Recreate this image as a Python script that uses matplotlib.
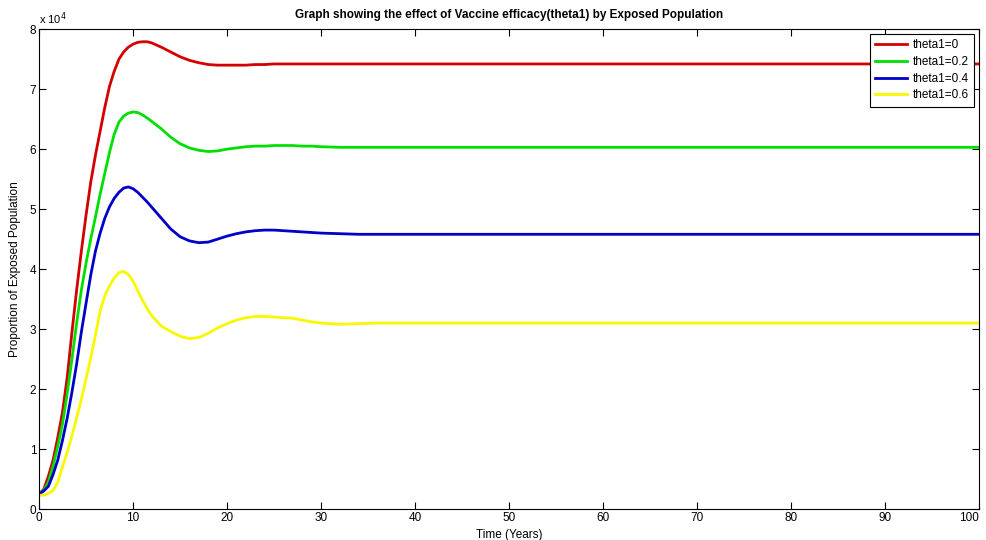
import matplotlib
matplotlib.use('Agg')
import matplotlib.pyplot as plt
import numpy as np

plt.rcParams['font.family'] = ['Liberation Sans', 'DejaVu Sans']

# time in years
t = [0, 0.5, 1, 1.5, 2, 2.5, 3, 3.5, 4, 4.5, 5, 5.5, 6, 6.5, 7, 7.5, 8, 8.5, 9, 9.5,
     10, 10.5, 11, 11.5, 12, 13, 14, 15, 16, 17, 18, 19, 20, 21, 22, 23, 24, 25, 26,
     27, 28, 29, 30, 32, 34, 36, 40, 50, 60, 70, 80, 90, 100]

# exposed population, units of 1e4
theta0 = [0.25, 0.33, 0.55, 0.82, 1.2, 1.62, 2.2, 2.95, 3.65, 4.3, 4.9, 5.45, 5.9, 6.3,
          6.7, 7.05, 7.3, 7.5, 7.62, 7.7, 7.75, 7.78, 7.79, 7.79, 7.77, 7.7, 7.62, 7.54,
          7.48, 7.44, 7.41, 7.40, 7.40, 7.40, 7.40, 7.41, 7.41, 7.42, 7.42, 7.42, 7.42,
          7.42, 7.42, 7.42, 7.42, 7.42, 7.42, 7.42, 7.42, 7.42, 7.42, 7.42, 7.42]
theta02 = [0.25, 0.31, 0.45, 0.72, 1.05, 1.42, 1.93, 2.5, 3.1, 3.65, 4.1, 4.5, 4.87, 5.25,
           5.6, 5.95, 6.25, 6.45, 6.55, 6.6, 6.62, 6.61, 6.57, 6.52, 6.46, 6.34, 6.2, 6.09,
           6.02, 5.98, 5.96, 5.97, 6.0, 6.02, 6.04, 6.05, 6.05, 6.06, 6.06, 6.06, 6.05,
           6.05, 6.04, 6.03, 6.03, 6.03, 6.03, 6.03, 6.03, 6.03, 6.03, 6.03, 6.03]
theta04 = [0.25, 0.3, 0.38, 0.58, 0.82, 1.15, 1.52, 1.95, 2.42, 2.95, 3.43, 3.9, 4.3, 4.6,
           4.85, 5.04, 5.18, 5.28, 5.35, 5.37, 5.34, 5.28, 5.2, 5.12, 5.03, 4.85, 4.67,
           4.54, 4.47, 4.44, 4.45, 4.5, 4.55, 4.59, 4.62, 4.64, 4.65, 4.65, 4.64, 4.63,
           4.62, 4.61, 4.6, 4.59, 4.58, 4.58, 4.58, 4.58, 4.58, 4.58, 4.58, 4.58, 4.58]
theta06 = [0.23, 0.23, 0.26, 0.31, 0.45, 0.7, 0.95, 1.22, 1.52, 1.83, 2.17, 2.52, 2.9,
           3.3, 3.56, 3.72, 3.85, 3.94, 3.96, 3.91, 3.8, 3.64, 3.48, 3.34, 3.22, 3.05,
           2.96, 2.88, 2.84, 2.86, 2.93, 3.02, 3.09, 3.15, 3.19, 3.21, 3.21, 3.2, 3.19,
           3.18, 3.15, 3.12, 3.1, 3.08, 3.09, 3.1, 3.1, 3.1, 3.1, 3.1, 3.1, 3.1, 3.1]

labels = ['theta1=0', 'theta1=0.2', 'theta1=0.4', 'theta1=0.6']
colors = ['#d40000', '#00e000', '#0000c8', '#f8f800']

fig = plt.figure(figsize=(9.86, 5.4), dpi=100)
ax = fig.add_axes([0.0396, 0.0574, 0.9534, 0.8886])

for y, lab, c in zip([theta0, theta02, theta04, theta06], labels, colors):
    ax.plot(t, np.array(y) * 1e4, color=c, lw=2, label=lab)

ax.set_xlim(0, 100)
ax.set_ylim(0, 80000)
ax.set_xticks(range(0, 101, 10))
ax.set_yticks(range(0, 80001, 10000))
ax.set_yticklabels([str(i) for i in range(9)])
ax.tick_params(direction='in', top=True, right=True, labelsize=8.5, length=5, pad=2)
# keep the last x label inside the figure
ax.get_xticklabels()[-1].set_horizontalalignment('right')
ax.text(0, 1.005, r'x 10$^{4}$', transform=ax.transAxes, fontsize=8, va='bottom', ha='left')

ax.set_title('Graph showing the effect of Vaccine efficacy(theta1) by Exposed Population',
             fontsize=8.5, fontweight='bold', pad=8)
ax.set_xlabel('Time (Years)', fontsize=8.5, labelpad=4)
ax.set_ylabel('Proportion of Exposed Population', fontsize=8.5, labelpad=6)

leg = ax.legend(loc='upper right', fontsize=8.5, fancybox=False, framealpha=1,
                edgecolor='black', borderaxespad=0.4, handlelength=2.7,
                handletextpad=0.5, labelspacing=0.4, borderpad=0.45)
leg.get_frame().set_linewidth(0.8)

plt.savefig('out.png', dpi=100)
